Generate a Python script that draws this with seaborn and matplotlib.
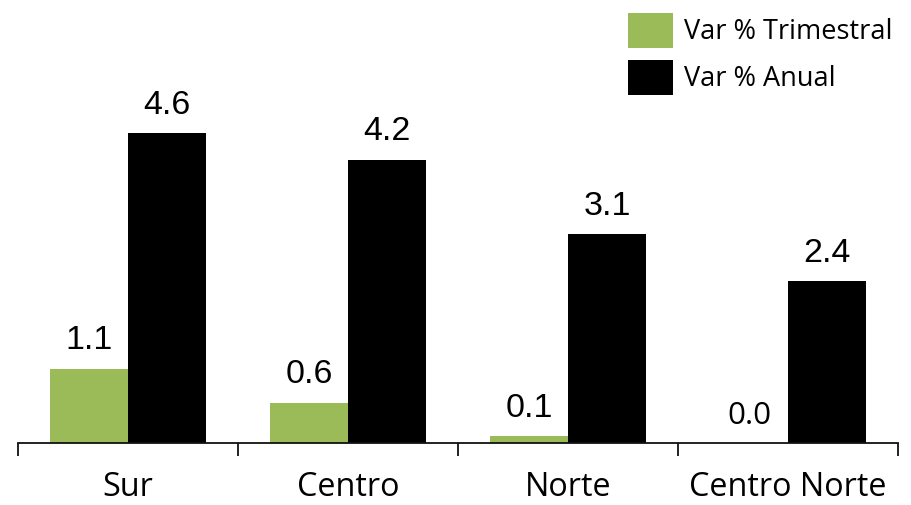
import matplotlib
matplotlib.use("Agg")
import matplotlib.pyplot as plt
import seaborn as sns
import pandas as pd

regions = ["Sur", "Centro", "Norte", "Centro Norte"]
series_names = ["Var % Trimestral", "Var % Anual"]
var_trimestral = [1.1, 0.6, 0.1, 0.0]
var_anual = [4.6, 4.2, 3.1, 2.4]

df = pd.DataFrame({
    "region": regions * 2,
    "series": [series_names[0]] * 4 + [series_names[1]] * 4,
    "value": var_trimestral + var_anual,
})

sns.set_style("white")
plt.rcParams["font.family"] = ["Open Sans", "DejaVu Sans"]
plt.rcParams["text.color"] = "black"
plt.rcParams["xtick.color"] = "black"
plt.rcParams["xtick.labelcolor"] = "black"

W, H = 911, 505
fig = plt.figure(figsize=(W / 100, H / 100), dpi=100)
ax = fig.add_axes([18 / W, (H - 443) / H, 880 / W, 438 / H])

green = "#9BBB59"
sns.barplot(data=df, x="region", y="value", hue="series",
            palette=[green, "#000000"], width=0.709, ax=ax,
            saturation=1, errorbar=None, linewidth=0)

ax.set_xlim(-0.5, 3.5)
ax.set_ylim(0, 6.5)
ax.set_xlabel("")
ax.set_ylabel("")
ax.set_yticks([])
for s in ["top", "right", "left"]:
    ax.spines[s].set_visible(False)
ax.spines["bottom"].set_linewidth(1.3)
ax.spines["bottom"].set_color("#111111")

ax.set_xticks([-0.5, 0.5, 1.5, 2.5, 3.5])
ax.set_xticklabels([])
ax.set_xticks(range(len(regions)), minor=True)
ax.set_xticklabels(regions, minor=True, fontsize=23.3, color="black",
                   family=["Open Sans", "DejaVu Sans"])
ax.tick_params(axis="x", which="major", bottom=True, length=9, width=1.3,
               color="#111111", direction="out")
ax.tick_params(axis="x", which="minor", bottom=True, length=0, pad=20)

num_font = ["Liberation Sans Narrow", "DejaVu Sans Condensed", "Liberation Sans"]
for cont in ax.containers:
    labels = ax.bar_label(cont, fmt="%.1f", padding=9, fontsize=24.5,
                          color="black", family=num_font)
    for t in labels:
        if t.get_text() == "0.0":
            t.set_family(["Open Sans", "DejaVu Sans"])
            t.set_fontsize(22.5)

leg = ax.legend(loc="upper left", bbox_to_anchor=(628 / W, 1 - 13 / H),
                bbox_transform=fig.transFigure, frameon=False, fontsize=19.5,
                handlelength=1.67, handleheight=1.6, handletextpad=0.4,
                labelspacing=0.45, borderpad=0, borderaxespad=0)
for t in leg.get_texts():
    t.set_color("black")

fig.savefig("out.png", dpi=100)
